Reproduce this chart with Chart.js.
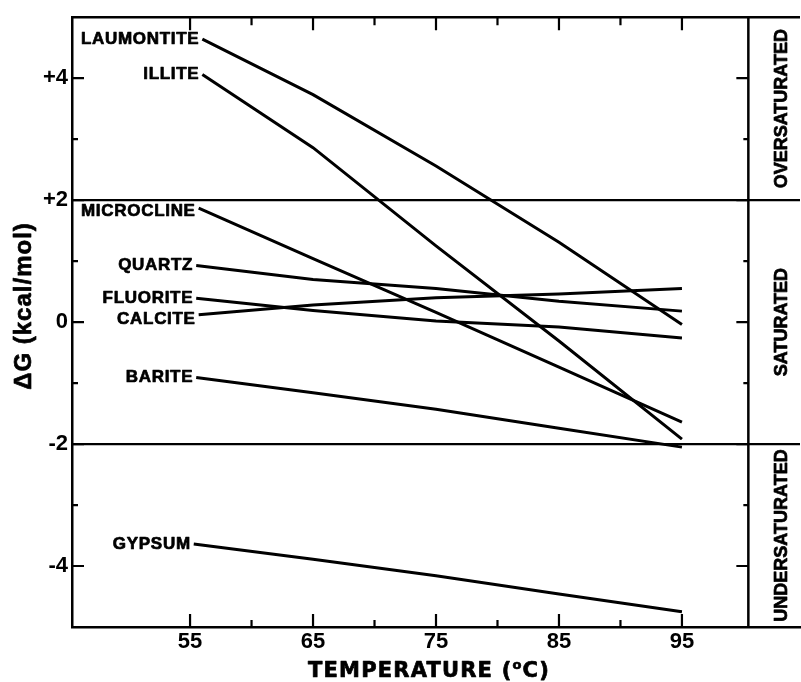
<!DOCTYPE html>
<html>
<head>
<meta charset="utf-8">
<script src="https://cdn.jsdelivr.net/npm/chart.js@4.4.1/dist/chart.umd.min.js"></script>
<style>
  html, body { margin: 0; padding: 0; background: #fff; }
  canvas { display: block; }
</style>
</head>
<body>
<canvas id="dg_chart" width="801" height="682"></canvas>
<script>
// ==== data ====
const minerals = ['LAUMONTITE', 'ILLITE', 'MICROCLINE', 'QUARTZ', 'FLUORITE', 'CALCITE', 'BARITE', 'GYPSUM'];
const startTemps = [56.0, 56.0, 55.7, 55.5, 55.5, 55.7, 55.5, 55.3];
const temps = [65, 75, 85, 95];

const laumontite = [4.64, 3.73, 2.56, 1.31, -0.04];
const illite     = [4.06, 2.86, 1.25, -0.31, -1.92];
const microcline = [1.87, 1.04, 0.16, -0.74, -1.64];
const quartz     = [0.93, 0.70, 0.55, 0.34, 0.18];
const fluorite   = [0.39, 0.19, 0.02, -0.08, -0.26];
const calcite    = [0.12, 0.28, 0.40, 0.46, 0.55];
const barite     = [-0.91, -1.16, -1.43, -1.74, -2.05];
const gypsum     = [-3.64, -3.89, -4.16, -4.46, -4.75];
const seriesValues = [laumontite, illite, microcline, quartz, fluorite, calcite, barite, gypsum];

const xTickLabels = [55, 65, 75, 85, 95];
const xMinorTicks = [55, 60, 65, 70, 75, 80, 85, 90, 95];
const yTickLabels = [-4, -2, 0, 2, 4];
const yMinorTicks = [-4, -3, -2, -1, 0, 1, 2, 3, 4];
const zoneLimits = [-2, 2];
const zoneNames = ['OVERSATURATED', 'SATURATED', 'UNDERSATURATED'];
const panelEdge = 100.4; // temperature where the zone panel starts

const FONT = "'Liberation Sans', Arial, sans-serif";

const datasets = minerals.map(function (name, i) {
    const ts = [startTemps[i]].concat(temps);
    return {
        label: name,
        data: ts.map((t, j) => ({ x: t, y: seriesValues[i][j] })),
        borderColor: '#000',
        borderWidth: 3,
        pointRadius: 0,
        tension: 0,
        fill: false
    };
});

// heavier text, like the printed original
function boldText(ctx, text, x, y) {
    ctx.fillText(text, x, y);
    ctx.strokeText(text, x, y);
}

// frame, ticks, zone lines and all annotation text
const framePlugin = {
    id: 'frame',
    beforeDraw(chart) {
        const ctx = chart.ctx;
        ctx.save();
        ctx.fillStyle = '#fff';
        ctx.fillRect(0, 0, chart.width, chart.height);
        ctx.restore();
    },
    afterDraw(chart) {
        const ctx = chart.ctx;
        const area = chart.chartArea;
        const xs = chart.scales.x;
        const ys = chart.scales.y;
        const px = xs.getPixelForValue(panelEdge);

        ctx.save();
        ctx.strokeStyle = '#000';
        ctx.lineCap = 'butt';

        // top border
        ctx.lineWidth = 2.5;
        ctx.beginPath();
        ctx.moveTo(area.left, area.top);
        ctx.lineTo(area.right, area.top);
        ctx.stroke();

        // zone limits
        ctx.lineWidth = 2.2;
        zoneLimits.forEach(function (v) {
            const y = ys.getPixelForValue(v);
            ctx.beginPath();
            ctx.moveTo(area.left, y);
            ctx.lineTo(area.right, y);
            ctx.stroke();
        });

        // panel edge
        ctx.lineWidth = 2.5;
        ctx.beginPath();
        ctx.moveTo(px, area.top);
        ctx.lineTo(px, area.bottom);
        ctx.stroke();

        // inward tick marks
        ctx.lineWidth = 2.2;
        xMinorTicks.forEach(function (v) {
            const x = xs.getPixelForValue(v);
            const major = v % 10 === 5;
            ctx.beginPath();
            ctx.moveTo(x, area.bottom);
            ctx.lineTo(x, area.bottom - (major ? 13 : 7));
            ctx.moveTo(x, area.top);
            ctx.lineTo(x, area.top + (major ? 13 : 8));
            ctx.stroke();
        });
        yMinorTicks.forEach(function (v) {
            const y = ys.getPixelForValue(v);
            const major = v % 2 === 0;
            ctx.beginPath();
            ctx.moveTo(area.left, y);
            ctx.lineTo(area.left + (major ? 12 : 6), y);
            ctx.moveTo(px, y);
            ctx.lineTo(px - (major ? 12 : 5), y);
            ctx.stroke();
        });

        ctx.fillStyle = '#000';
        ctx.lineWidth = 0.7;
        ctx.lineJoin = 'round';

        // mineral labels at the start of each line
        const nudge = { MICROCLINE: 3, CALCITE: 5 };
        ctx.font = 'bold 17px ' + FONT;
        ctx.letterSpacing = '0.7px';
        ctx.textAlign = 'right';
        ctx.textBaseline = 'middle';
        chart.data.datasets.forEach(function (ds, i) {
            const pt = chart.getDatasetMeta(i).data[0];
            boldText(ctx, ds.label, pt.x - 3, pt.y + (nudge[ds.label] || 0));
        });

        // zone names in the right panel
        const bounds = [ys.max, zoneLimits[1], zoneLimits[0], ys.min];
        ctx.font = 'bold 18px ' + FONT;
        ctx.letterSpacing = '0px';
        ctx.textAlign = 'center';
        zoneNames.forEach(function (name, i) {
            const yc = (ys.getPixelForValue(bounds[i]) + ys.getPixelForValue(bounds[i + 1])) / 2;
            ctx.save();
            ctx.translate((px + area.right) / 2 + 8, yc);
            ctx.rotate(-Math.PI / 2);
            boldText(ctx, name, 0, 0);
            ctx.restore();
        });

        // y axis title
        ctx.save();
        ctx.font = 'bold 24px ' + FONT;
        ctx.letterSpacing = '1px';
        ctx.translate(24, 306);
        ctx.rotate(-Math.PI / 2);
        boldText(ctx, '\u0394G (kcal/mol)', 0, 0);
        ctx.restore();

        // x axis title with superscript o
        ctx.font = "bold 21px 'DejaVu Sans', sans-serif";
        ctx.letterSpacing = '1.2px';
        ctx.textAlign = 'left';
        ctx.textBaseline = 'alphabetic';
        const partA = 'TEMPERATURE (';
        const partB = 'C)';
        const wA = ctx.measureText(partA).width;
        const wB = ctx.measureText(partB).width;
        ctx.font = "bold 13px 'DejaVu Sans', sans-serif";
        const wO = ctx.measureText('o').width;
        const total = wA + wO + wB;
        const x0 = 429 - total / 2;
        const base = 677;
        ctx.font = "bold 21px 'DejaVu Sans', sans-serif";
        boldText(ctx, partA, x0, base);
        ctx.font = "bold 13px 'DejaVu Sans', sans-serif";
        boldText(ctx, 'o', x0 + wA, base - 8);
        ctx.font = "bold 21px 'DejaVu Sans', sans-serif";
        boldText(ctx, partB, x0 + wA + wO, base);

        ctx.restore();
    }
};

const ctx1 = document.getElementById('dg_chart').getContext('2d');
window.dgChart = new Chart(ctx1, {
    type: 'line',
    data: { datasets: datasets },
    options: {
        responsive: false,
        animation: false,
        devicePixelRatio: 1,
        layout: { padding: { top: 13, right: 1, left: 0, bottom: 0 } },
        plugins: {
            legend: { display: false },
            tooltip: { enabled: false }
        },
        scales: {
            x: {
                type: 'linear',
                position: 'bottom',
                min: 45.4,
                max: 104.6,
                afterFit: s => { s.height = 55; },
                afterBuildTicks: s => { s.ticks = xTickLabels.map(v => ({ value: v })); },
                grid: { display: false, drawTicks: false },
                border: { display: true, color: '#000', width: 2.5 },
                ticks: {
                    color: '#000',
                    padding: 2,
                    maxRotation: 0,
                    font: { family: FONT, size: 22, weight: 'bold' }
                }
            },
            y: {
                type: 'linear',
                position: 'left',
                min: -5,
                max: 5,
                afterFit: s => { s.width = 72; },
                afterBuildTicks: s => { s.ticks = yTickLabels.map(v => ({ value: v })); },
                grid: { display: false, drawTicks: false },
                border: { display: true, color: '#000', width: 2.5 },
                ticks: {
                    color: '#000',
                    padding: 4,
                    font: { family: FONT, size: 22, weight: 'bold' },
                    callback: v => (v > 0 ? '+' + v : String(v))
                }
            }
        }
    },
    plugins: [framePlugin]
});
</script>
</body>
</html>
